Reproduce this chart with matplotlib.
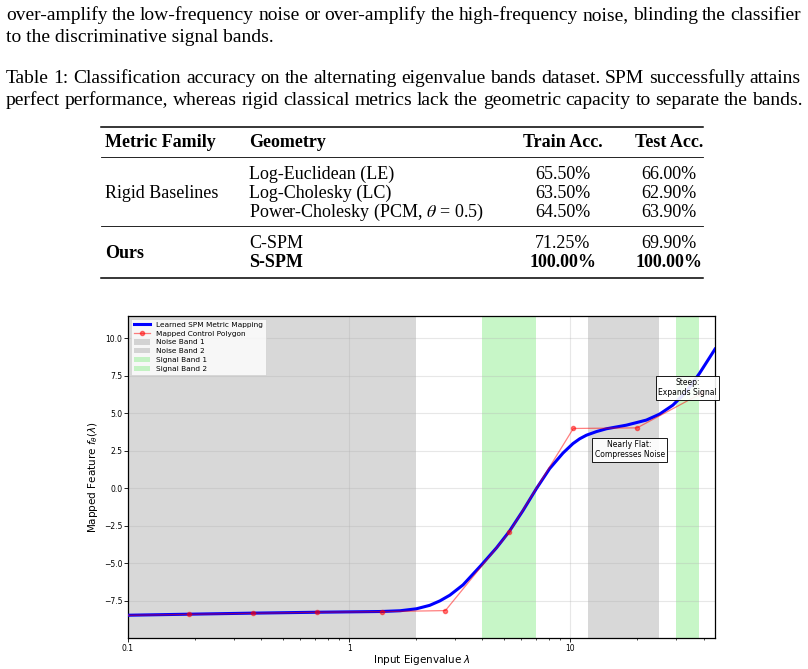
import matplotlib
matplotlib.use("Agg")
import matplotlib.pyplot as plt
from matplotlib.lines import Line2D

# ---------------- data ----------------
body_lines = [
    "over-amplify the low-frequency noise or over-amplify the high-frequency noise, blinding the classifier",
    "to the discriminative signal bands.",
]
caption_lines = [
    "Table 1: Classification accuracy on the alternating eigenvalue bands dataset. SPM successfully attains",
    "perfect performance, whereas rigid classical metrics lack the geometric capacity to separate the bands.",
]
table_header = ["Metric Family", "Geometry", "Train Acc.", "Test Acc."]
families = ["Rigid Baselines", "Ours"]
geometries = ["Log-Euclidean (LE)", "Log-Cholesky (LC)",
              r"Power-Cholesky (PCM, $\theta$ = 0.5)", "C-SPM", "S-SPM"]
row_family = [0, 0, 0, 1, 1]
train_acc = [65.50, 63.50, 64.50, 71.25, 100.00]
test_acc = [66.00, 62.90, 63.90, 69.90, 100.00]
bold_rows = [False, False, False, False, True]

lam_curve = [0.1, 0.189, 0.367, 0.714, 1.40, 1.70, 2.01, 2.31, 2.57, 2.85,
             3.27, 3.96, 4.63, 5.28, 6.10, 7.01, 8.05, 9.25, 10.26, 11.0,
             11.8, 13.09, 14.53, 17.88, 22.02, 25.29, 29.04, 33.38, 38.33, 45.0]
f_curve = [-8.48, -8.41, -8.34, -8.28, -8.23, -8.18, -8.05, -7.82, -7.52, -7.14,
           -6.45, -5.12, -3.98, -2.90, -1.49, -0.03, 1.31, 2.35, 2.98, 3.30,
           3.54, 3.78, 3.97, 4.21, 4.55, 4.95, 5.55, 6.44, 7.68, 9.29]
ctrl_lam = [0.097, 0.189, 0.368, 0.717, 1.40, 2.72, 5.29, 10.3, 20.0, 39.0]
ctrl_f = [-8.49, -8.42, -8.35, -8.28, -8.24, -8.17, -2.94, 3.99, 4.03, 6.33]

band_names = ["Noise Band 1", "Noise Band 2", "Signal Band 1", "Signal Band 2"]
band_lo = [0.1, 12.0, 4.0, 30.0]
band_hi = [2.0, 25.0, 7.0, 38.0]
band_kind = ["noise", "noise", "signal", "signal"]

xtick_vals = [0.1, 1, 10]
xtick_labels = ["0.1", "1", "10"]
ytick_vals = [-7.5, -5.0, -2.5, 0.0, 2.5, 5.0, 7.5, 10.0]

annotations = ["Nearly Flat:\nCompresses Noise", "Steep:\nExpands Signal"]
annot_lam = [18.5, 33.8]
annot_f = [2.57, 6.72]

# ---------------- figure ----------------
W, H = 808, 669
fig = plt.figure(figsize=(W / 100, H / 100), dpi=100)
SERIF = "Liberation Serif"
FS_BODY = 14.0
FS = 13.0


def fx(px):
    return px / W


def fy(py):
    return 1 - py / H


renderer = fig.canvas.get_renderer()


def justify(line, x0, x1, yb, **kw):
    words = line.split()
    objs = [fig.text(0, 0, w, va="baseline", ha="left", **kw) for w in words]
    widths = [o.get_window_extent(renderer).width for o in objs]
    gap = (x1 - x0 - sum(widths)) / (len(words) - 1)
    x = x0
    for o, w in zip(objs, widths):
        o.set_position((fx(x), fy(yb)))
        x += w + gap


justify(body_lines[0], 6, 801, 20, family=SERIF, fontsize=FS_BODY)
fig.text(fx(6), fy(42), body_lines[1], family=SERIF, fontsize=FS_BODY, va="baseline")
justify(caption_lines[0], 6, 801, 83, family=SERIF, fontsize=FS_BODY)
justify(caption_lines[1], 6, 803, 105, family=SERIF, fontsize=FS_BODY)

# table
tl, tr = 101, 703


def rule(y, lw):
    fig.add_artist(Line2D([fx(tl), fx(tr)], [fy(y), fy(y)], color="black", lw=lw,
                          transform=fig.transFigure))


rule(127, 1.1)
rule(157, 0.6)
rule(226, 0.6)
rule(278, 1.1)

col_x = [105, 249, 563, 669]
col_ha = ["left", "left", "center", "center"]
for j, h in enumerate(table_header):
    fig.text(fx(col_x[j]), fy(147), h, family=SERIF, fontsize=FS, weight="bold",
             ha=col_ha[j], va="baseline")

row_y = [179, 198, 217, 248, 267]
for i in range(len(geometries)):
    wt = "bold" if bold_rows[i] else "normal"
    fig.text(fx(col_x[1]), fy(row_y[i]), geometries[i], family=SERIF, fontsize=FS,
             weight=wt, ha="left", va="baseline", math_fontfamily="stix")
    fig.text(fx(col_x[2]), fy(row_y[i]), f"{train_acc[i]:.2f}%", family=SERIF,
             fontsize=FS, weight=wt, ha="center", va="baseline")
    fig.text(fx(col_x[3]), fy(row_y[i]), f"{test_acc[i]:.2f}%", family=SERIF,
             fontsize=FS, weight=wt, ha="center", va="baseline")

for k, fam in enumerate(families):
    ys = [row_y[i] for i in range(len(row_family)) if row_family[i] == k]
    yc = sum(ys) / len(ys)
    fig.text(fx(col_x[0]), fy(yc), fam, family=SERIF, fontsize=FS,
             weight="bold" if fam == "Ours" else "normal", ha="left", va="baseline")

# chart
ax = fig.add_axes([fx(128), fy(638), fx(715) - fx(128), fy(316) - fy(638)])
ax.plot(lam_curve, f_curve, color="blue", lw=2.2, label="Learned SPM Metric Mapping", zorder=3)
ax.plot(ctrl_lam, ctrl_f, color="red", alpha=0.5, lw=0.9, marker="o", markersize=3,
        label="Mapped Control Polygon", zorder=4)
for name, lo, hi, kind in zip(band_names, band_lo, band_hi, band_kind):
    if kind == "noise":
        ax.axvspan(lo, hi, color="gray", alpha=0.3, lw=0, label=name)
    else:
        ax.axvspan(lo, hi, color="lightgreen", alpha=0.5, lw=0, label=name)

ax.set_xscale("log")
ax.set_xlim(0.1, 45)
ax.set_ylim(-10.0, 11.5)
ax.set_xticks(xtick_vals, xtick_labels)
ax.set_yticks(ytick_vals)
ax.tick_params(labelsize=5.5, length=2.6, width=0.6, pad=1.5)
ax.tick_params(which="minor", length=1.5, width=0.5)
ax.grid(True, which="major", color="#b0b0b0", alpha=0.3, lw=0.8)
for s in ax.spines.values():
    s.set_linewidth(0.9)
ax.set_xlabel(r"Input Eigenvalue $\lambda$", fontsize=7.5, labelpad=0.5)
ax.set_ylabel(r"Mapped Feature $f_\theta(\lambda)$", fontsize=7.5, labelpad=2.5)
leg = ax.legend(loc="upper left", fontsize=5.3, frameon=True, fancybox=False,
                framealpha=0.8, edgecolor="#cccccc", borderpad=0.4, labelspacing=0.35,
                handlelength=2.2, borderaxespad=0.4)
leg.get_frame().set_linewidth(0.5)

for t, lx, ly in zip(annotations, annot_lam, annot_f):
    ax.text(lx, ly, t, fontsize=5.5, ha="center", va="center", zorder=6,
            bbox=dict(boxstyle="square,pad=0.3", fc="white", ec="black", lw=0.7, alpha=0.9),
            clip_on=False)

fig.savefig("out.png", dpi=100)
